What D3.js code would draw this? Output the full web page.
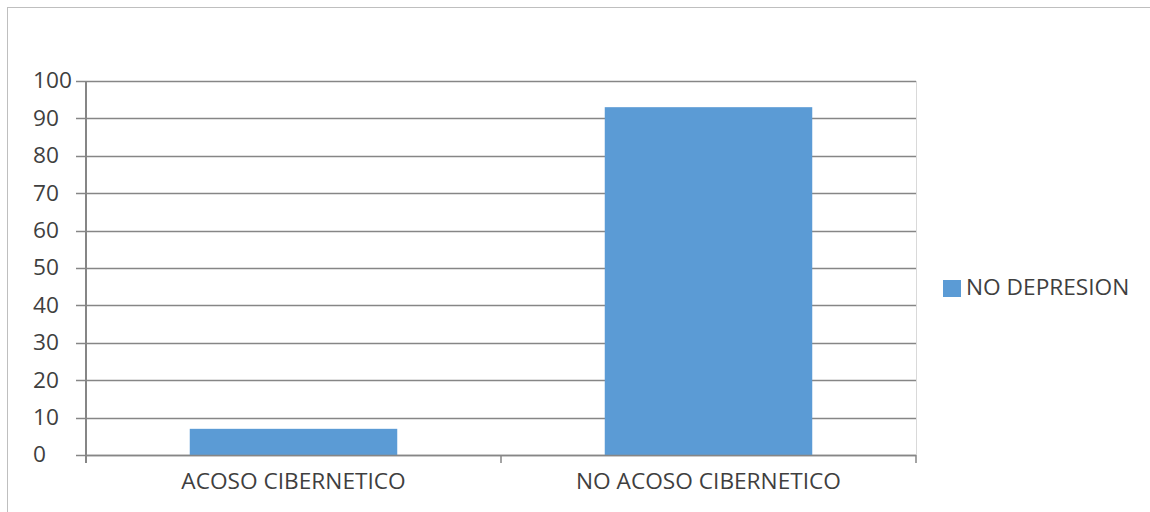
<!DOCTYPE html>
<html><head><meta charset="utf-8">
<script src="https://cdn.jsdelivr.net/npm/d3@7"></script>
<style>body{margin:0;background:#fff}svg{display:block}text{font-family:"Open Sans",sans-serif;fill:#3f3f3f}</style>
</head><body><svg id="c" width="1150" height="512"></svg>
<script>
const categories = ["ACOSO CIBERNETICO", "NO ACOSO CIBERNETICO"];
const values = [7, 93];
const seriesName = "NO DEPRESION";
const yTicks = [0,10,20,30,40,50,60,70,80,90,100];

const FS = 21, SX = 1.08;
const svg = d3.select("#c");
const m = {l:86, r:916, t:81, b:455};
svg.append("rect").attr("x",7.5).attr("y",7.5).attr("width",1160).attr("height",520)
  .attr("fill","none").attr("stroke","#bfbfbf");

const x = d3.scaleBand().domain(categories).range([m.l,m.r]).paddingInner(0.5).paddingOuter(0.25);
const y = d3.scaleLinear().domain([0,100]).range([m.b,m.t]);

// right plot edge
svg.append("line").attr("x1",m.r+0.5).attr("x2",m.r+0.5).attr("y1",m.t).attr("y2",m.b).attr("stroke","#d9d9d9");

// gridlines + y ticks
svg.append("g").selectAll("line").data(yTicks).join("line")
  .attr("x1",76).attr("x2",m.r).attr("y1",d=>Math.round(y(d))+0.5).attr("y2",d=>Math.round(y(d))+0.5)
  .attr("stroke","#868686").attr("stroke-width",1.5);
svg.append("g").selectAll("text").data(yTicks).join("text")
  .attr("transform",d=>`translate(33,${y(d)}) scale(${SX},1)`)
  .attr("dy","0.35em").attr("text-anchor","start")
  .attr("font-size",FS).text(d=>d);

// bars
svg.append("g").selectAll("rect").data(values).join("rect")
  .attr("x",(d,i)=>x(categories[i])).attr("width",x.bandwidth())
  .attr("y",d=>y(d)).attr("height",d=>y(0)-y(d)).attr("fill","#5b9bd5");

// axes lines
svg.append("line").attr("x1",m.l).attr("x2",m.l).attr("y1",m.t).attr("y2",463).attr("stroke","#868686").attr("stroke-width",2);
svg.append("line").attr("x1",m.l).attr("x2",m.r).attr("y1",455.5).attr("y2",455.5).attr("stroke","#868686").attr("stroke-width",1.5);
const bTicks = [m.l, ...categories.slice(1).map(c=>x(c)-x.step()*x.paddingInner()/2), m.r];
svg.append("g").selectAll("line").data(bTicks).join("line")
  .attr("x1",d=>d).attr("x2",d=>d).attr("y1",455).attr("y2",463).attr("stroke","#868686").attr("stroke-width",1.5);

svg.append("g").selectAll("text").data(categories).join("text")
  .attr("transform",d=>`translate(${x(d)+x.bandwidth()/2},489) scale(${SX},1)`)
  .attr("text-anchor","middle")
  .attr("font-size",FS).text(d=>d);

// legend
svg.append("rect").attr("x",943).attr("y",280).attr("width",18).attr("height",17).attr("fill","#5b9bd5");
svg.append("text").attr("transform",`translate(966,295) scale(${SX},1)`).attr("font-size",FS).text(seriesName);
</script></body></html>
